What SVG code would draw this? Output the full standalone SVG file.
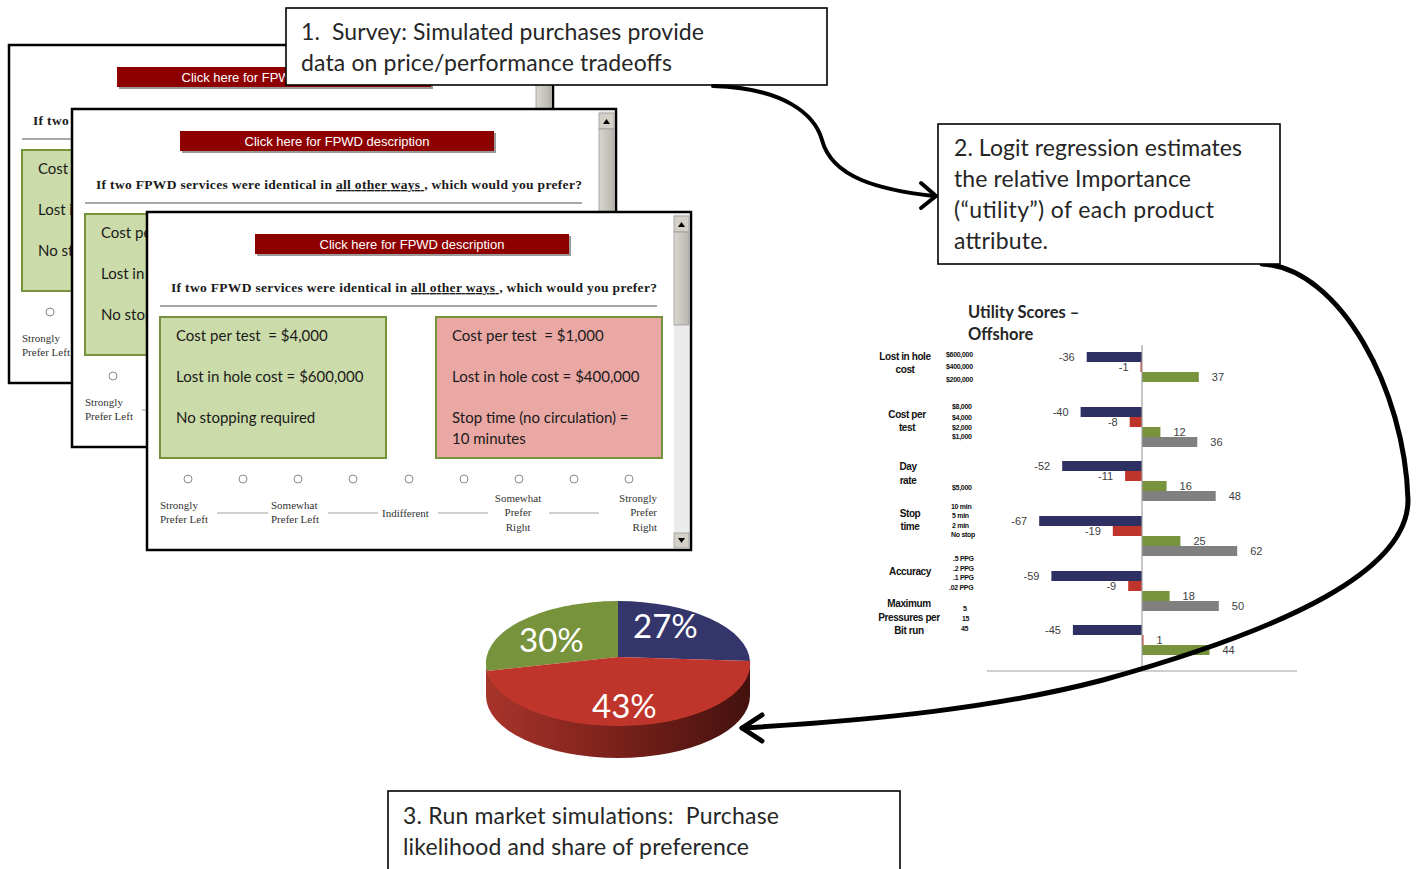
<svg xmlns="http://www.w3.org/2000/svg" xmlns:xlink="http://www.w3.org/1999/xlink" width="1421" height="869" viewBox="0 0 1421 869">
<style>
.win{fill:#fff;stroke:#000;stroke-width:2.5}
.btn{fill:#8E0000}
.btnt{font-family:"Liberation Sans",Arial,sans-serif;font-size:13px;fill:#fff;text-anchor:middle}
.q{font-family:"Liberation Serif","Times New Roman",serif;font-size:13.5px;font-weight:bold;fill:#1a1a1a}
.opt{font-family:Lato,"Open Sans",sans-serif;font-size:15px;fill:#1a1a1a;white-space:pre}
.sc{font-family:"Liberation Serif","Times New Roman",serif;font-size:11px;fill:#333}
.rad{fill:#fff;stroke:#8a8a8a;stroke-width:1}
.dash{stroke:#a0a0a0;stroke-width:1.2}
.box{fill:#fff;stroke:#000;stroke-width:1.6}
.bt{font-family:Lato,"Open Sans",sans-serif;font-size:23px;fill:#262626;white-space:pre}
.con{fill:none;stroke:#000;stroke-linecap:round;stroke-linejoin:round}
.cat{font-family:"Liberation Sans",Arial,sans-serif;font-size:10px;font-weight:bold;fill:#111;text-anchor:middle;letter-spacing:-0.4px}
.lvl{font-family:"Liberation Sans",Arial,sans-serif;font-size:7px;font-weight:bold;fill:#111;letter-spacing:-0.3px}
.val{font-family:"Liberation Sans",Arial,sans-serif;font-size:11px;fill:#404040}
.neg{text-anchor:end}
.nv{fill:#2E2F62}.rd{fill:#C0352B}.gr{fill:#77933C}.gy{fill:#808080}
.pct{font-family:Lato,"Open Sans",sans-serif;font-size:33px;fill:#fff}
.ttl{font-family:Lato,"Open Sans",sans-serif;font-size:16.5px;font-weight:bold;fill:#262626}
</style>
<defs>
<linearGradient id="side" x1="0" y1="0" x2="1" y2="0">
<stop offset="0" stop-color="#A8342A"/>
<stop offset="0.5" stop-color="#7A211B"/>
<stop offset="1" stop-color="#43110E"/>
</linearGradient>
<linearGradient id="thumb" x1="0" y1="0" x2="1" y2="0">
<stop offset="0" stop-color="#d8d6ce"/>
<stop offset="1" stop-color="#b8b6ae"/>
</linearGradient>
<g id="window">
<rect class="win" x="0" y="0" width="544" height="338"/>
<rect x="527" y="2" width="15" height="334" fill="#ebebeb"/>
<rect x="527" y="4" width="15" height="16" fill="#d4d0c8" stroke="#9a9a9a" stroke-width="0.8"/>
<path d="M531,15 L534.5,10 L538,15 Z" fill="#000"/>
<rect x="527" y="20" width="15" height="93" fill="url(#thumb)" stroke="#9a9a9a" stroke-width="0.8"/>
<rect x="527" y="321" width="15" height="15" fill="#d4d0c8" stroke="#9a9a9a" stroke-width="0.8"/>
<path d="M531,326 L534.5,331 L538,326 Z" fill="#000"/>
<rect x="110" y="24" width="314" height="20" fill="#9a9a9a"/>
<rect class="btn" x="108" y="22" width="314" height="20"/>
<text class="btnt" x="265" y="36.5">Click here for FPWD description</text>
<text class="q" x="24" y="80" textLength="486" lengthAdjust="spacing">If two FPWD services were identical in <tspan text-decoration="underline">all other ways </tspan>, which would you prefer?</text>
<line x1="13" y1="94" x2="510" y2="94" stroke="#a8a8a8" stroke-width="2"/>
<rect x="13" y="105" width="226" height="141" fill="#CBDBA9" stroke="#76923C" stroke-width="2"/>
<rect x="289" y="105" width="226" height="141" fill="#EAA8A5" stroke="#76923C" stroke-width="2"/>
<text class="opt" x="29" y="129" xml:space="preserve">Cost per test  = $4,000</text>
<text class="opt" x="29" y="170">Lost in hole cost = $600,000</text>
<text class="opt" x="29" y="211">No stopping required</text>
<text class="opt" x="305" y="129" xml:space="preserve">Cost per test  = $1,000</text>
<text class="opt" x="305" y="170">Lost in hole cost = $400,000</text>
<text class="opt" x="305" y="211">Stop time (no circulation) =</text>
<text class="opt" x="305" y="232">10 minutes</text>
<circle class="rad" cx="41" cy="267" r="4"/>
<circle class="rad" cx="96" cy="267" r="4"/>
<circle class="rad" cx="151" cy="267" r="4"/>
<circle class="rad" cx="206" cy="267" r="4"/>
<circle class="rad" cx="262" cy="267" r="4"/>
<circle class="rad" cx="317" cy="267" r="4"/>
<circle class="rad" cx="372" cy="267" r="4"/>
<circle class="rad" cx="427" cy="267" r="4"/>
<circle class="rad" cx="482" cy="267" r="4"/>
<line class="dash" x1="70" y1="301" x2="121" y2="301"/>
<line class="dash" x1="181" y1="301" x2="231" y2="301"/>
<line class="dash" x1="291" y1="301" x2="341" y2="301"/>
<line class="dash" x1="402" y1="301" x2="452" y2="301"/>
<text class="sc" x="13" y="297">Strongly</text>
<text class="sc" x="13" y="311">Prefer Left</text>
<text class="sc" x="124" y="297">Somewhat</text>
<text class="sc" x="124" y="311">Prefer Left</text>
<text class="sc" x="235" y="305">Indifferent</text>
<text class="sc" x="371" y="290" text-anchor="middle">Somewhat</text>
<text class="sc" x="371" y="304" text-anchor="middle">Prefer</text>
<text class="sc" x="371" y="319" text-anchor="middle">Right</text>
<text class="sc" x="510" y="290" text-anchor="end">Strongly</text>
<text class="sc" x="510" y="304" text-anchor="end">Prefer</text>
<text class="sc" x="510" y="319" text-anchor="end">Right</text>
</g>
</defs>

<g id="survey-window-1"><use xlink:href="#window" href="#window" x="9" y="45"/></g>
<g id="survey-window-2"><use xlink:href="#window" href="#window" x="72" y="109"/></g>
<g id="survey-window-3"><use xlink:href="#window" href="#window" x="147" y="212"/></g>

<g id="step1">
<rect class="box" x="286" y="8" width="541" height="77"/>
<text class="bt" x="301" y="40" textLength="403" lengthAdjust="spacing" xml:space="preserve">1.  Survey: Simulated purchases provide</text>
<text class="bt" x="301" y="71" textLength="371" lengthAdjust="spacing">data on price/performance tradeoffs</text>
</g>

<g id="utility-chart">
<text class="ttl" x="968" y="318">Utility Scores –</text>
<text class="ttl" x="968" y="340">Offshore</text>
<text class="cat" x="905" y="360">Lost in hole</text>
<text class="cat" x="905" y="373">cost</text>
<text class="cat" x="907" y="418">Cost per</text>
<text class="cat" x="907" y="431">test</text>
<text class="cat" x="908" y="470">Day</text>
<text class="cat" x="908" y="484">rate</text>
<text class="cat" x="910" y="517">Stop</text>
<text class="cat" x="910" y="530">time</text>
<text class="cat" x="910" y="575">Accuracy</text>
<text class="cat" x="909" y="607">Maximum</text>
<text class="cat" x="909" y="621">Pressures per</text>
<text class="cat" x="909" y="634">Bit run</text>
<text class="lvl" x="946" y="357">$600,000</text>
<text class="lvl" x="946" y="369">$400,000</text>
<text class="lvl" x="946" y="382">$200,000</text>
<text class="lvl" x="952" y="409">$8,000</text>
<text class="lvl" x="952" y="420">$4,000</text>
<text class="lvl" x="952" y="430">$2,000</text>
<text class="lvl" x="952" y="439">$1,000</text>
<text class="lvl" x="952" y="490">$5,000</text>
<text class="lvl" x="951" y="509">10 min</text>
<text class="lvl" x="952" y="518">5 min</text>
<text class="lvl" x="952" y="528">2 min</text>
<text class="lvl" x="951" y="537">No stop</text>
<text class="lvl" x="953" y="561">.5 PPG</text>
<text class="lvl" x="953" y="571">.2 PPG</text>
<text class="lvl" x="953" y="580">.1 PPG</text>
<text class="lvl" x="949" y="590">.02 PPG</text>
<text class="lvl" x="963" y="611">5</text>
<text class="lvl" x="962" y="621">15</text>
<text class="lvl" x="961" y="631">45</text>
<line x1="987" y1="671" x2="1297" y2="671" stroke="#a0a0a0" stroke-width="1.2"/>
<rect class="nv" x="1086.7" y="352" width="55.3" height="10"/>
<rect class="rd" x="1140.5" y="362" width="1.5" height="10"/>
<rect class="gr" x="1142" y="372" width="56.8" height="10"/>
<text class="val neg" x="1074.7" y="361">-36</text>
<text class="val neg" x="1128.5" y="371">-1</text>
<text class="val" x="1211.8" y="381">37</text>
<rect class="nv" x="1080.6" y="407" width="61.4" height="10"/>
<rect class="rd" x="1129.7" y="417" width="12.3" height="10"/>
<rect class="gr" x="1142" y="427" width="18.4" height="10"/>
<rect class="gy" x="1142" y="437" width="55.3" height="10"/>
<text class="val neg" x="1068.6" y="416">-40</text>
<text class="val neg" x="1117.7" y="426">-8</text>
<text class="val" x="1173.4" y="436">12</text>
<text class="val" x="1210.3" y="446">36</text>
<rect class="nv" x="1062.2" y="461" width="79.8" height="10"/>
<rect class="rd" x="1125.1" y="471" width="16.9" height="10"/>
<rect class="gr" x="1142" y="481" width="24.6" height="10"/>
<rect class="gy" x="1142" y="491" width="73.7" height="10"/>
<text class="val neg" x="1050.2" y="470">-52</text>
<text class="val neg" x="1113.1" y="480">-11</text>
<text class="val" x="1179.6" y="490">16</text>
<text class="val" x="1228.7" y="500">48</text>
<rect class="nv" x="1039.2" y="516" width="102.8" height="10"/>
<rect class="rd" x="1112.8" y="526" width="29.2" height="10"/>
<rect class="gr" x="1142" y="536" width="38.4" height="10"/>
<rect class="gy" x="1142" y="546" width="95.2" height="10"/>
<text class="val neg" x="1027.2" y="525">-67</text>
<text class="val neg" x="1100.8" y="535">-19</text>
<text class="val" x="1193.4" y="545">25</text>
<text class="val" x="1250.2" y="555">62</text>
<rect class="nv" x="1051.4" y="571" width="90.6" height="10"/>
<rect class="rd" x="1128.2" y="581" width="13.8" height="10"/>
<rect class="gr" x="1142" y="591" width="27.6" height="10"/>
<rect class="gy" x="1142" y="601" width="76.8" height="10"/>
<text class="val neg" x="1039.4" y="580">-59</text>
<text class="val neg" x="1116.2" y="590">-9</text>
<text class="val" x="1182.6" y="600">18</text>
<text class="val" x="1231.8" y="610">50</text>
<rect class="nv" x="1072.9" y="625" width="69.1" height="10"/>
<rect class="rd" x="1142" y="635" width="1.5" height="10"/>
<rect class="gr" x="1142" y="645" width="67.5" height="10"/>
<text class="val neg" x="1060.9" y="634">-45</text>
<text class="val" x="1156.5" y="644">1</text>
<text class="val" x="1222.5" y="654">44</text>
<line x1="1142" y1="345" x2="1142" y2="671" stroke="#a0a0a0" stroke-width="1.2"/>
</g>

<g id="pie">
<path d="M486,663 A132,62 0 0 0 750,663 L750,696 A132,62 0 0 1 486,696 Z" fill="url(#side)"/>
<path d="M618,657 L487,671 A132,62 0 0 1 618,601 Z" fill="#77933C"/>
<path d="M618,657 L618,601 A132,62 0 0 1 750,661 Z" fill="#33356B"/>
<path d="M618,657 L750,661 A132,62 0 0 1 487,671 Z" fill="#C0352B"/>
<text class="pct" x="633" y="638">27%</text>
<text class="pct" x="519" y="652">30%</text>
<text class="pct" x="592" y="718">43%</text>
</g>

<g id="connectors">
<path class="con" stroke-width="4" d="M713,86 C785,88 815,115 822,140 C832,178 880,190 934,196"/>
<path class="con" stroke-width="4" d="M921,183 L936,196 L921,208"/>
<path class="con" stroke-width="5" d="M1262,264 C1340,268 1405,390 1408,500 C1408,570 1290,628 1103,680 C1000,707 880,720 742,728"/>
<path class="con" stroke-width="5" d="M762,715 L742,728 L762,741"/>
</g>

<g id="step2">
<rect class="box" x="938" y="124" width="342" height="140"/>
<text class="bt" x="954" y="156" textLength="288" lengthAdjust="spacing">2. Logit regression estimates</text>
<text class="bt" x="954" y="187" textLength="237" lengthAdjust="spacing">the relative Importance</text>
<text class="bt" x="954" y="218" textLength="260" lengthAdjust="spacing">(“utility”) of each product</text>
<text class="bt" x="954" y="249" textLength="94" lengthAdjust="spacing">attribute.</text>
</g>

<g id="step3">
<rect class="box" x="388" y="791" width="512" height="80"/>
<text class="bt" x="403" y="824" textLength="376" lengthAdjust="spacing" xml:space="preserve">3. Run market simulations:  Purchase</text>
<text class="bt" x="403" y="855" textLength="346" lengthAdjust="spacing">likelihood and share of preference</text>
</g>
</svg>
